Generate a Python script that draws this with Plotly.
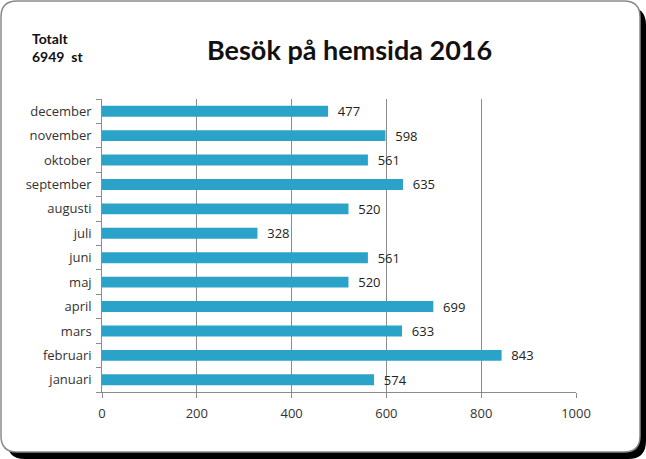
import plotly.graph_objects as go

months = ["januari", "februari", "mars", "april", "maj", "juni", "juli",
          "augusti", "september", "oktober", "november", "december"]
visits = [574, 843, 633, 699, 520, 561, 328, 520, 635, 561, 598, 477]
x_ticks = [0, 200, 400, 600, 800, 1000]
title_text = "Besök på hemsida 2016"
total_text = "Totalt<br>6949  st"

W, H = 646, 459
L, R, T, B = 102, 70, 99, 67
FONT = "Lato, Open Sans, sans-serif"
TFONT = "Open Sans, sans-serif"

def px(x):
    return x - L

def py(y):
    return (H - B) - y

def rounded(x0, y0, x1, y1, r):
    X0, X1 = px(x0), px(x1)
    Y0, Y1 = py(y0), py(y1)  # Y0 top (larger), Y1 bottom
    return (f"M {X0+r},{Y0} L {X1-r},{Y0} Q {X1},{Y0} {X1},{Y0-r} "
            f"L {X1},{Y1+r} Q {X1},{Y1} {X1-r},{Y1} L {X0+r},{Y1} "
            f"Q {X0},{Y1} {X0},{Y1+r} L {X0},{Y0-r} Q {X0},{Y0} {X0+r},{Y0} Z")

fig = go.Figure()
fig.add_trace(go.Bar(
    y=months, x=visits, orientation="h",
    marker=dict(color="#2ba3c8", line=dict(width=0)),
    text=["\u00a0\u00a0" + str(v) for v in visits], textposition="outside",
    constraintext="none",
    textfont=dict(family=TFONT, size=13, color="#222222"),
    cliponaxis=False, width=0.45,
))

common = dict(xref="paper", yref="paper", xanchor=0, yanchor=0,
              xsizemode="pixel", ysizemode="pixel", layer="below")
shapes = [
    dict(type="path", path=rounded(7, 7, 646, 459, 18), fillcolor="#000000",
         line=dict(width=0), **common),
    dict(type="path", path=rounded(1, 1, 640, 452, 16), fillcolor="white",
         line=dict(color="#8a8a8a", width=1.5), **common),
]

fig.update_layout(
    width=W, height=H,
    margin=dict(l=L, r=R, t=T, b=B),
    paper_bgcolor="white", plot_bgcolor="rgba(0,0,0,0)",
    showlegend=False,
    shapes=shapes,
    font=dict(family=TFONT, size=13, color="#333333"),
    annotations=[
        dict(text=f"<b>{title_text}</b>", xref="paper", yref="paper",
             x=(349 - L) / (W - L - R), y=(H - B - 50) / (H - T - B),
             xanchor="center", yanchor="middle", showarrow=False,
             font=dict(family=FONT, size=27, color="#111111")),
        dict(text=f"<b>{total_text}</b>", xref="paper", yref="paper",
             x=(30 - L) / (W - L - R), y=(H - B - 47) / (H - T - B),
             xanchor="left", yanchor="middle", showarrow=False, align="left",
             font=dict(family=FONT, size=14, color="#111111")),
    ],
    xaxis=dict(range=[0, 1000], tickvals=x_ticks, ticktext=[str(t) for t in x_ticks],
               showgrid=True, gridcolor="#8c8c8c", gridwidth=1,
               showline=True, linecolor="#8c8c8c", linewidth=1,
               ticks="outside", ticklen=5, tickcolor="#8c8c8c",
               zeroline=False, tickfont=dict(family=TFONT, size=13, color="#333333"),
               ticklabelstandoff=4, mirror=False),
    yaxis=dict(categoryorder="array", categoryarray=months,
               showline=True, linecolor="#8c8c8c", linewidth=1,
               ticks="outside", ticklen=5, tickcolor="#8c8c8c",
               tickson="boundaries", showgrid=False,
               tickfont=dict(family=TFONT, size=13, color="#333333"),
               ticksuffix="\u00a0\u00a0"),
)

fig.write_html("out.html")
